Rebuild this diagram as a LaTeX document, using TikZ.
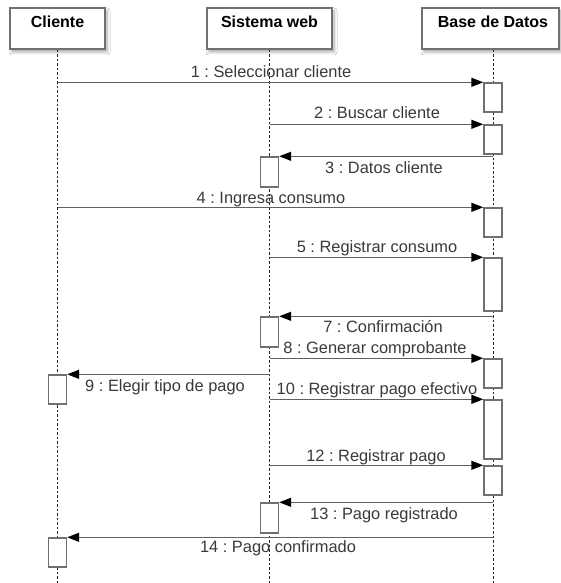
\documentclass[tikz,border=0pt]{standalone}
\usepackage{fontspec}
\setmainfont{Liberation Sans}
\usetikzlibrary{arrows.meta,shadows.blur}

\definecolor{boxgray}{HTML}{707070}
\definecolor{msggray}{HTML}{606060}
\definecolor{labelgray}{HTML}{3A3A3A}
\definecolor{lifedark}{HTML}{262626}

\begin{document}
\frenchspacing
\begin{tikzpicture}[x=1pt,y=-1pt,
  headbox/.style={draw=boxgray, line width=1.4pt, fill=white, inner sep=0pt,
    minimum height=41pt,
    blur shadow={shadow xshift=2pt, shadow yshift=-3pt, shadow blur radius=3pt,
      shadow blur steps=6, shadow opacity=35}},
  headtext/.style={anchor=base, inner sep=0pt, text=black,
    font=\fontsize{16}{19}\selectfont\bfseries},
  lifeline/.style={draw=lifedark, line width=1pt, dash pattern=on 2.5pt off 2pt},
  act/.style={draw=boxgray, line width=1.4pt, fill=white, inner sep=0pt,
    minimum width=18pt},
  msg/.style={draw=msggray, line width=1.4pt,
    -{Triangle[length=12pt,width=9pt,color=black,fill=black]}},
  lbl/.style={anchor=base, inner sep=0pt, text=labelgray,
    font=\fontsize{16.4}{19}\selectfont}
]
\useasboundingbox (0,0) rectangle (560,583);
\fill[white] (0,0) rectangle (560,583);

% participants
\node[headbox, minimum width=95pt]  (hc) at (57.5,28.5) {};
\node[headbox, minimum width=125pt] (hs) at (269.5,28.5) {};
\node[headbox, minimum width=137pt] (hb) at (490.5,28.5) {};
\node[headtext] (tc) at (57.5,27.5) {Cliente};
\node[headtext] (ts) at (269.5,27.5) {Sistema web};
\node[headtext] (tb) at (493,27.5) {Base de Datos};

% lifelines
\coordinate (ec) at (57.5,583);
\coordinate (es) at (269.5,583);
\coordinate (eb) at (493,583);
\draw[lifeline] (hc.south) -- (ec);
\draw[lifeline] (hs.south) -- (es);
\draw[lifeline] (hb.south -| eb) -- (eb);

% message labels
\node[lbl] (m1)  at (271,78)  {1 : Seleccionar cliente};
\node[lbl] (m2)  at (377,119) {2 : Buscar cliente};
\node[lbl] (m3)  at (384,173) {3 : Datos cliente};
\node[lbl] (m4)  at (271,203) {4 : Ingresa consumo};
\node[lbl] (m5)  at (377,252) {5 : Registrar consumo};
\node[lbl] (m7)  at (383,332) {7 : Confirmación};
\node[lbl] (m8)  at (375,353) {8 : Generar comprobante};
\node[lbl] (m9)  at (165,391) {9 : Elegir tipo de pago};
\node[lbl] (m10) at (377,394) {10 : Registrar pago efectivo};
\node[lbl] (m12) at (376,461) {12 : Registrar pago};
\node[lbl] (m13) at (384,519) {13 : Pago registrado};
\node[lbl] (m14) at (278,552) {14 : Pago confirmado};

% activation bars
\node[act, minimum height=29pt] (a1)  at (493,97.5)  {};
\node[act, minimum height=29pt] (a2)  at (493,139.5) {};
\node[act, minimum height=30pt] (a3)  at (269.5,172) {};
\node[act, minimum height=29pt] (a4)  at (493,222.5) {};
\node[act, minimum height=53pt] (a5)  at (493,284.5) {};
\node[act, minimum height=30pt] (a7)  at (269.5,332) {};
\node[act, minimum height=29pt] (a8)  at (493,373.5) {};
\node[act, minimum height=29pt] (a9)  at (57.5,389.5) {};
\node[act, minimum height=59pt] (a10) at (493,429.5) {};
\node[act, minimum height=29pt] (a12) at (493,480.5) {};
\node[act, minimum height=30pt] (a13) at (269.5,518) {};
\node[act, minimum height=29pt] (a14) at (57.5,552.5) {};

% messages
\draw[msg] (hc.south |- a1.north west)  -- (a1.north west);
\draw[msg] (hs.south |- a2.north west)  -- (a2.north west);
\draw[msg] (eb |- a3.north east)        -- (a3.north east);
\draw[msg] (hc.south |- a4.north west)  -- (a4.north west);
\draw[msg] (hs.south |- a5.north west)  -- (a5.north west);
\draw[msg] (eb |- a7.north east)        -- (a7.north east);
\draw[msg] (hs.south |- a8.north west)  -- (a8.north west);
\draw[msg] (hs.south |- a9.north east)  -- (a9.north east);
\draw[msg] (hs.south |- a10.north west) -- (a10.north west);
\draw[msg] (hs.south |- a12.north west) -- (a12.north west);
\draw[msg] (eb |- a13.north east)       -- (a13.north east);
\draw[msg] (eb |- a14.north east)       -- (a14.north east);
\end{tikzpicture}
\end{document}
